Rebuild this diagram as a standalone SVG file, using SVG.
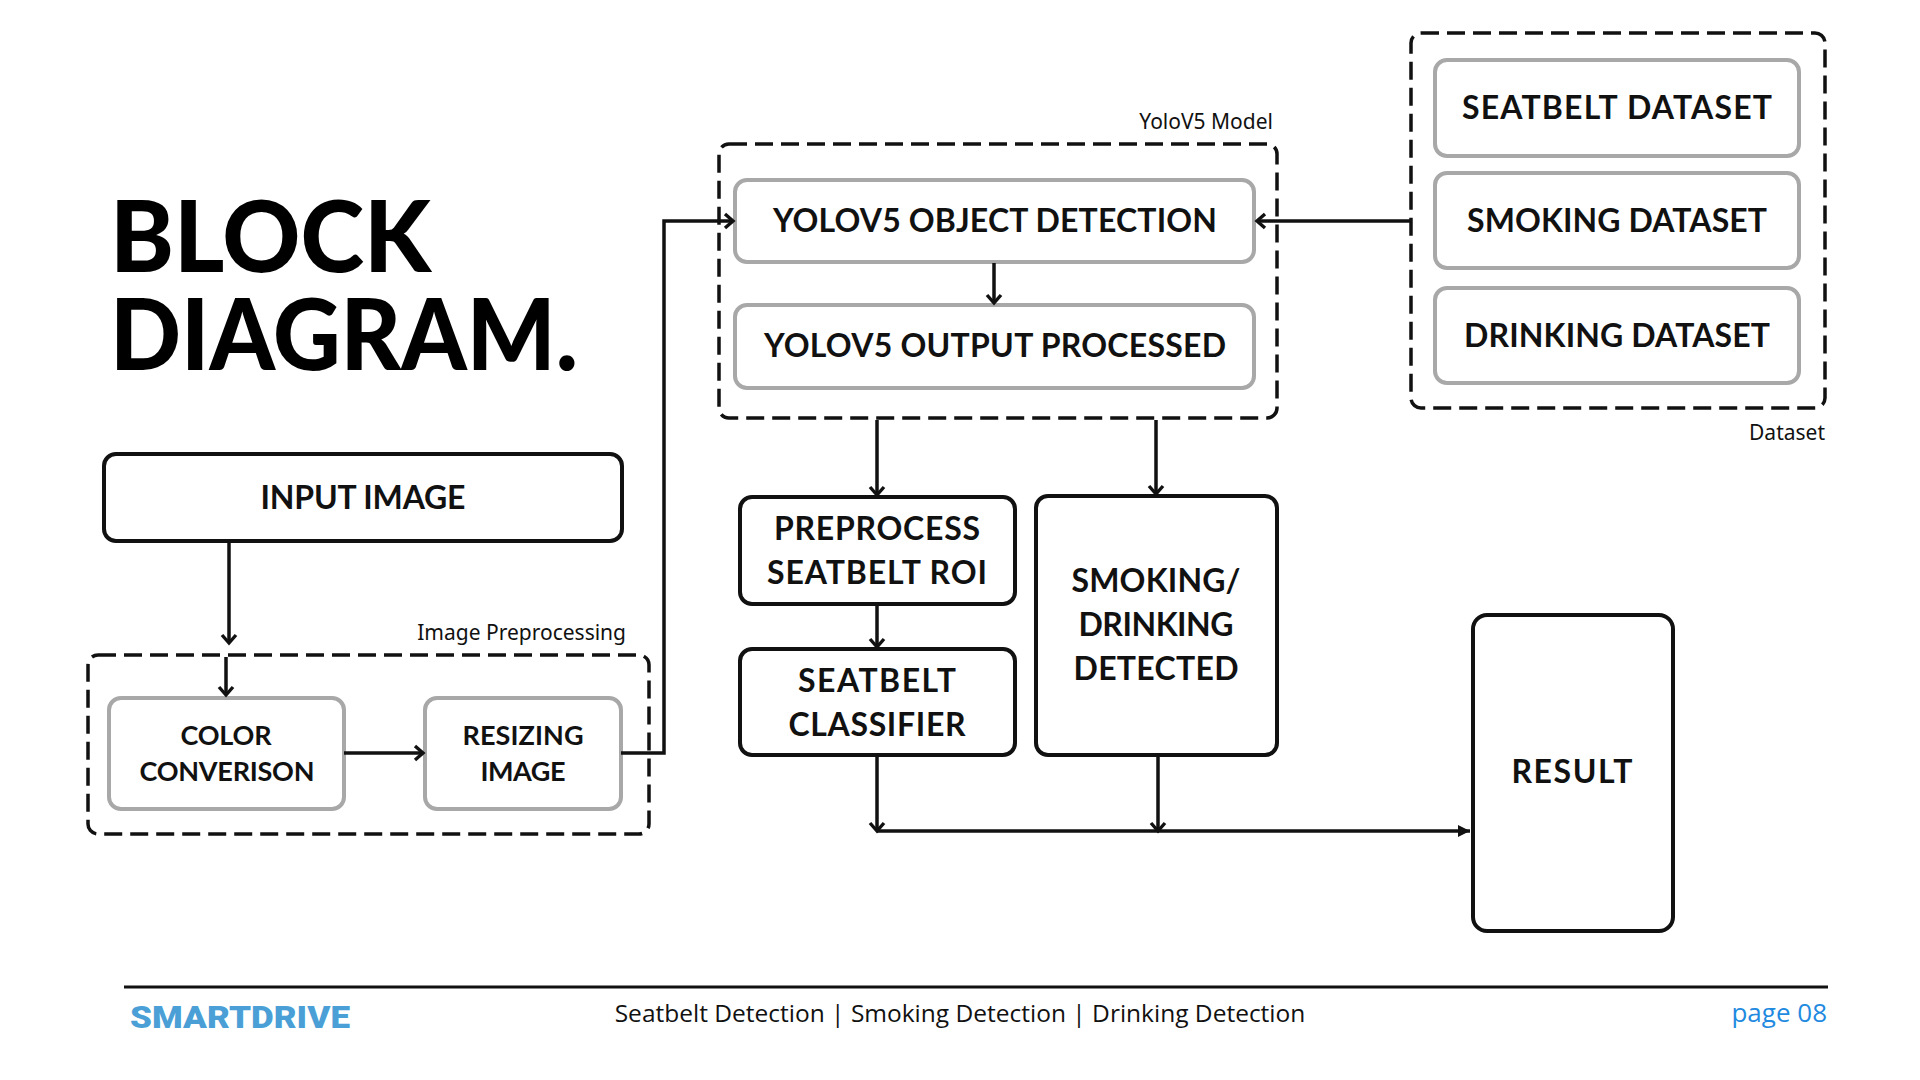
<svg xmlns="http://www.w3.org/2000/svg" width="1920" height="1080" viewBox="0 0 1920 1080">
<defs>
<style>
.bg{fill:#ffffff}
.dash{fill:none;stroke:#111;stroke-width:3.5;stroke-dasharray:18 8}
.gbox{fill:#fff;stroke:#a8a8a8;stroke-width:4}
.kbox{fill:#fff;stroke:#111;stroke-width:4}
.lbl{font-family:Lato,"Liberation Sans",sans-serif;font-weight:700;fill:#111;text-anchor:middle;font-size:32px}
.sm{font-size:27px}
.grp{font-family:"Noto Sans","Liberation Sans",sans-serif;font-size:21px;fill:#111;text-anchor:end}
.title{font-family:Lato,"Liberation Sans",sans-serif;font-weight:900;font-size:100px;fill:#000}
.conn{fill:none;stroke:#111;stroke-width:3.5}
</style>
<marker id="chev" markerUnits="userSpaceOnUse" markerWidth="18" markerHeight="18" viewBox="0 0 18 18" refX="15" refY="9" orient="auto">
<path d="M7,2 L15,9 L7,16" fill="none" stroke="#111" stroke-width="3.4"/>
</marker>
<marker id="tri" markerUnits="userSpaceOnUse" markerWidth="16" markerHeight="16" viewBox="0 0 16 16" refX="14" refY="8" orient="auto">
<path d="M2,2 L14,8 L2,14 Z" fill="#111"/>
</marker>
</defs>
<rect class="bg" x="0" y="0" width="1920" height="1080"/>

<g id="title">
<text class="title" x="110" y="272" textLength="321" lengthAdjust="spacingAndGlyphs">BLOCK</text>
<text class="title" x="110" y="370" textLength="468" lengthAdjust="spacingAndGlyphs">DIAGRAM.</text>
</g>

<g id="yolo-group">
<rect class="dash" x="719" y="144" width="558" height="274" rx="10"/>
<text class="grp" x="1273" y="129">YoloV5 Model</text>
</g>
<g id="dataset-group">
<rect class="dash" x="1411" y="33" width="414" height="375" rx="10"/>
<text class="grp" x="1825" y="440">Dataset</text>
</g>
<g id="preproc-group">
<rect class="dash" x="88" y="655" width="561" height="179" rx="10"/>
<text class="grp" x="626" y="640">Image Preprocessing</text>
</g>

<g id="yolo-detect">
<rect class="gbox" x="735" y="180" width="519" height="82" rx="12"/>
<text class="lbl" x="995" y="232" textLength="444">YOLOV5 OBJECT DETECTION</text>
</g>
<g id="yolo-output">
<rect class="gbox" x="735" y="305" width="519" height="83" rx="12"/>
<text class="lbl" x="995" y="357" textLength="462">YOLOV5 OUTPUT PROCESSED</text>
</g>

<g id="seatbelt-dataset">
<rect class="gbox" x="1435" y="60" width="364" height="96" rx="12"/>
<text class="lbl" x="1617" y="119" textLength="310">SEATBELT DATASET</text>
</g>
<g id="smoking-dataset">
<rect class="gbox" x="1435" y="173" width="364" height="95" rx="12"/>
<text class="lbl" x="1617" y="232" textLength="300">SMOKING DATASET</text>
</g>
<g id="drinking-dataset">
<rect class="gbox" x="1435" y="288" width="364" height="95" rx="12"/>
<text class="lbl" x="1617" y="347" textLength="306">DRINKING DATASET</text>
</g>

<g id="input-image">
<rect class="kbox" x="104" y="454" width="518" height="87" rx="12"/>
<text class="lbl" x="363" y="509" textLength="205">INPUT IMAGE</text>
</g>
<g id="color-conversion">
<rect class="gbox" x="109" y="698" width="235" height="111" rx="12"/>
<text class="lbl sm" x="226" y="745" textLength="91">COLOR</text>
<text class="lbl sm" x="227" y="781" textLength="175">CONVERISON</text>
</g>
<g id="resizing-image">
<rect class="gbox" x="425" y="698" width="196" height="111" rx="12"/>
<text class="lbl sm" x="523" y="745" textLength="121">RESIZING</text>
<text class="lbl sm" x="523" y="781" textLength="85">IMAGE</text>
</g>

<g id="preprocess-roi">
<rect class="kbox" x="740" y="497" width="275" height="107" rx="12"/>
<text class="lbl" x="877" y="540" textLength="206">PREPROCESS</text>
<text class="lbl" x="877" y="584" textLength="220">SEATBELT ROI</text>
</g>
<g id="seatbelt-classifier">
<rect class="kbox" x="740" y="649" width="275" height="106" rx="12"/>
<text class="lbl" x="877" y="692" textLength="158">SEATBELT</text>
<text class="lbl" x="877" y="736" textLength="177">CLASSIFIER</text>
</g>
<g id="smoking-drinking">
<rect class="kbox" x="1036" y="496" width="241" height="259" rx="12"/>
<text class="lbl" x="1156" y="592" textLength="169">SMOKING/</text>
<text class="lbl" x="1156" y="636" textLength="155">DRINKING</text>
<text class="lbl" x="1156" y="680" textLength="165">DETECTED</text>
</g>
<g id="result">
<rect class="kbox" x="1473" y="615" width="200" height="316" rx="14"/>
<text class="lbl" x="1572" y="783" textLength="121">RESULT</text>
</g>

<g id="connectors">
<path class="conn" d="M229,543 V643" marker-end="url(#chev)"/>
<path class="conn" d="M226,657 V695" marker-end="url(#chev)"/>
<path class="conn" d="M344,753 H423" marker-end="url(#chev)"/>
<path class="conn" d="M621,753 H664 V221 H733" marker-end="url(#chev)"/>
<path class="conn" d="M994,263 V303" marker-end="url(#chev)"/>
<path class="conn" d="M1411,221 H1257" marker-end="url(#chev)"/>
<path class="conn" d="M877,420 V495" marker-end="url(#chev)"/>
<path class="conn" d="M1156,420 V494" marker-end="url(#chev)"/>
<path class="conn" d="M877,606 V647" marker-end="url(#chev)"/>
<path class="conn" d="M877,757 V831" marker-end="url(#chev)"/>
<path class="conn" d="M1158,757 V831" marker-end="url(#chev)"/>
<path class="conn" d="M877,831 H1470" marker-end="url(#tri)"/>
</g>

<g id="footer">
<line x1="124" y1="987" x2="1828" y2="987" stroke="#111" stroke-width="3"/>
<text x="130" y="1028" font-family="Roboto,'Liberation Sans',sans-serif" font-weight="900" font-size="32" fill="#4a9fd6" textLength="220" lengthAdjust="spacingAndGlyphs">SMARTDRIVE</text>
<text x="960" y="1022" font-family="'Open Sans','Liberation Sans',sans-serif" font-size="24.5" fill="#111" text-anchor="middle">Seatbelt Detection | Smoking Detection | Drinking Detection</text>
<text x="1827" y="1022" font-family="'Open Sans','Liberation Sans',sans-serif" font-size="26" fill="#1f8ae0" text-anchor="end">page 08</text>
</g>
</svg>
